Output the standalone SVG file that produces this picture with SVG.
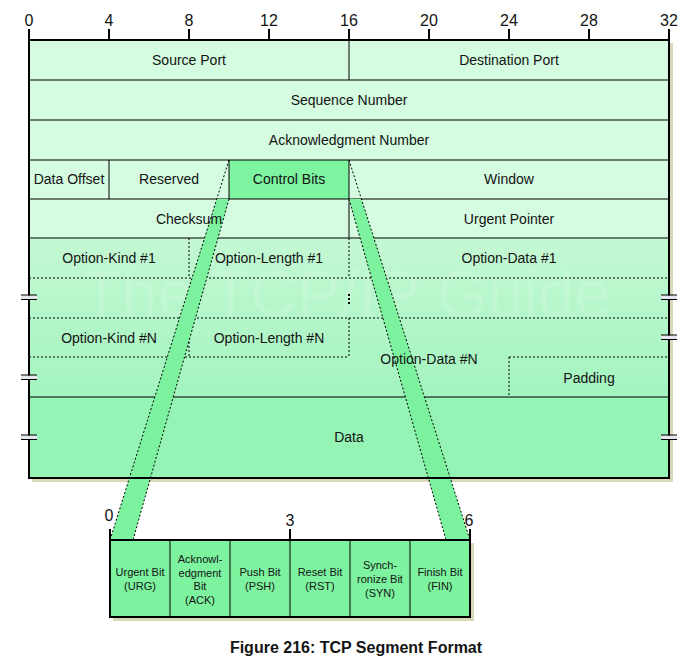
<svg xmlns="http://www.w3.org/2000/svg" width="700" height="668" viewBox="0 0 700 668">
<defs>
<linearGradient id="optGrad" x1="0" y1="238" x2="0" y2="397" gradientUnits="userSpaceOnUse">
<stop offset="0" stop-color="#c4f8d3"/>
<stop offset="1" stop-color="#a3f4bf"/>
</linearGradient>
</defs>
<style>
.t{font-family:"Liberation Sans",Arial,sans-serif;font-size:14px;fill:#141414;text-anchor:middle}
.s{font-size:11px}
.n{font-size:16px}
.cap{font-size:16px;font-weight:bold}
.sol{stroke:#000;stroke-width:1;fill:none}
.dot{stroke:#000;stroke-width:1;stroke-dasharray:2 2;fill:none}
.bd{stroke:#000;stroke-width:2;fill:none}
.tick{stroke:#000;stroke-width:2}
.sh{fill:#d8d8b8}
.band{fill:#7cf29e;stroke:none}
.brk{fill:#e6e6f0}
</style>
<rect width="700" height="668" fill="#ffffff"/>

<!-- shadows -->
<rect class="sh" x="669" y="43" width="4" height="439"/>
<rect class="sh" x="32" y="478" width="641" height="4"/>
<rect class="sh" x="470" y="543" width="4" height="78"/>
<rect class="sh" x="113" y="617" width="361" height="4"/>

<!-- ruler -->
<g id="ruler">
<line class="tick" x1="29" y1="29" x2="29" y2="40"/>
<line class="tick" x1="109" y1="29" x2="109" y2="40"/>
<line class="tick" x1="189" y1="29" x2="189" y2="40"/>
<line class="tick" x1="269" y1="29" x2="269" y2="40"/>
<line class="tick" x1="349" y1="29" x2="349" y2="40"/>
<line class="tick" x1="429" y1="29" x2="429" y2="40"/>
<line class="tick" x1="509" y1="29" x2="509" y2="40"/>
<line class="tick" x1="589" y1="29" x2="589" y2="40"/>
<line class="tick" x1="669" y1="29" x2="669" y2="40"/>
<text class="t n" x="29" y="26">0</text>
<text class="t n" x="109" y="26">4</text>
<text class="t n" x="189" y="26">8</text>
<text class="t n" x="269" y="26">12</text>
<text class="t n" x="349" y="26">16</text>
<text class="t n" x="429" y="26">20</text>
<text class="t n" x="509" y="26">24</text>
<text class="t n" x="589" y="26">28</text>
<text class="t n" x="669" y="26">32</text>
</g>

<!-- main segment fills -->
<g id="segment-fills">
<rect x="29" y="40" width="640" height="198" fill="#d5fbe0"/>
<rect x="29" y="238" width="640" height="159" fill="url(#optGrad)"/>
<rect x="29" y="397" width="640" height="81" fill="#94f3b5"/>
<rect id="control-bits-cell" x="229" y="160" width="120" height="39" fill="#7ef3a0"/>
<text x="346" y="316" font-family="'Liberation Sans',Arial,sans-serif" font-size="65" text-anchor="middle" fill="#ffffff" fill-opacity="0.13">The TCP/IP Guide</text>
</g>

<!-- internal lines -->
<g id="segment-lines">
<line class="sol" x1="29" y1="80" x2="669" y2="80"/>
<line class="sol" x1="29" y1="120" x2="669" y2="120"/>
<line class="sol" x1="29" y1="160" x2="669" y2="160"/>
<line class="sol" x1="29" y1="199" x2="669" y2="199"/>
<line class="sol" x1="29" y1="238" x2="669" y2="238"/>
<line class="sol" x1="29" y1="397" x2="669" y2="397"/>
<line class="sol" x1="349" y1="40" x2="349" y2="80"/>
<line class="sol" x1="349" y1="160" x2="349" y2="238"/>
<line class="sol" x1="109" y1="160" x2="109" y2="199"/>
<line class="sol" x1="229" y1="160" x2="229" y2="199"/>
<line class="dot" x1="29" y1="278" x2="669" y2="278"/>
<line class="dot" x1="29" y1="318" x2="669" y2="318"/>
<line class="dot" x1="189" y1="238" x2="189" y2="278"/>
<line class="dot" x1="349" y1="238" x2="349" y2="278"/>
<line class="dot" x1="189" y1="318" x2="189" y2="357"/>
<line class="dot" x1="349" y1="318" x2="349" y2="357"/>
<line class="dot" x1="29" y1="357" x2="349" y2="357"/>
<line class="dot" x1="509" y1="357" x2="669" y2="357"/>
<line class="dot" x1="509" y1="357" x2="509" y2="397"/>
<line x1="349" y1="294" x2="349" y2="304" stroke="#000" stroke-width="2" stroke-dasharray="2 2"/>
</g>

<!-- connectors: magnification bands -->
<g id="connectors">
<polygon class="band" points="216.7,199 229,199 133,540 110,540"/>
<polygon class="band" points="349,199 361.4,199 470,540 446,540"/>
<line class="dot" x1="229" y1="160" x2="110" y2="540"/>
<line class="dot" x1="229" y1="199" x2="133" y2="540"/>
<line class="dot" x1="349" y1="160" x2="470" y2="540"/>
<line class="dot" x1="349" y1="199" x2="446" y2="540"/>
</g>

<!-- main border -->
<rect class="bd" x="29" y="40" width="640" height="438"/>

<!-- field labels -->
<g id="source-port"><text class="t" x="189" y="65">Source Port</text></g>
<g id="destination-port"><text class="t" x="509" y="65">Destination Port</text></g>
<g id="sequence-number"><text class="t" x="349" y="105">Sequence Number</text></g>
<g id="ack-number"><text class="t" x="349" y="145">Acknowledgment Number</text></g>
<g id="data-offset"><text class="t" x="69" y="184">Data Offset</text></g>
<g id="reserved"><text class="t" x="169" y="184">Reserved</text></g>
<g id="control-bits"><text class="t" x="289" y="184">Control Bits</text></g>
<g id="window"><text class="t" x="509" y="184">Window</text></g>
<g id="checksum"><text class="t" x="189" y="224">Checksum</text></g>
<g id="urgent-pointer"><text class="t" x="509" y="224">Urgent Pointer</text></g>
<g id="option-kind-1"><text class="t" x="109" y="263">Option-Kind #1</text></g>
<g id="option-length-1"><text class="t" x="269" y="263">Option-Length #1</text></g>
<g id="option-data-1"><text class="t" x="509" y="263">Option-Data #1</text></g>
<g id="option-kind-n"><text class="t" x="109" y="343">Option-Kind #N</text></g>
<g id="option-length-n"><text class="t" x="269" y="343">Option-Length #N</text></g>
<g id="option-data-n"><text class="t" x="429" y="364">Option-Data #N</text></g>
<g id="padding"><text class="t" x="589" y="383">Padding</text></g>
<g id="data"><text class="t" x="349" y="442">Data</text></g>

<!-- break marks -->
<g id="breaks">
<rect class="brk" x="21" y="295.5" width="16" height="3.5"/>
<line class="sol" x1="21" y1="295" x2="37" y2="295" stroke-width="1.5"/>
<line class="sol" x1="21" y1="299.5" x2="37" y2="299.5" stroke-width="1.5"/>
<rect class="brk" x="21" y="375.5" width="16" height="3.5"/>
<line class="sol" x1="21" y1="375" x2="37" y2="375" stroke-width="1.5"/>
<line class="sol" x1="21" y1="379.5" x2="37" y2="379.5" stroke-width="1.5"/>
<rect class="brk" x="21" y="435.5" width="16" height="3.5"/>
<line class="sol" x1="21" y1="435" x2="37" y2="435" stroke-width="1.5"/>
<line class="sol" x1="21" y1="439.5" x2="37" y2="439.5" stroke-width="1.5"/>
<rect class="brk" x="661" y="295.5" width="16" height="3.5"/>
<line class="sol" x1="661" y1="295" x2="677" y2="295" stroke-width="1.5"/>
<line class="sol" x1="661" y1="299.5" x2="677" y2="299.5" stroke-width="1.5"/>
<rect class="brk" x="661" y="335.5" width="16" height="3.5"/>
<line class="sol" x1="661" y1="335" x2="677" y2="335" stroke-width="1.5"/>
<line class="sol" x1="661" y1="339.5" x2="677" y2="339.5" stroke-width="1.5"/>
<rect class="brk" x="661" y="435.5" width="16" height="3.5"/>
<line class="sol" x1="661" y1="435" x2="677" y2="435" stroke-width="1.5"/>
<line class="sol" x1="661" y1="439.5" x2="677" y2="439.5" stroke-width="1.5"/>
</g>

<!-- control bits detail -->
<g id="control-bits-detail">
<rect x="110" y="540" width="360" height="77" fill="#7df29f"/>
<line class="sol" x1="170" y1="540" x2="170" y2="617"/>
<line class="sol" x1="230" y1="540" x2="230" y2="617"/>
<line class="sol" x1="290" y1="540" x2="290" y2="617"/>
<line class="sol" x1="350" y1="540" x2="350" y2="617"/>
<line class="sol" x1="410" y1="540" x2="410" y2="617"/>
<rect class="bd" x="110" y="540" width="360" height="77"/>
<line class="tick" x1="110" y1="529" x2="110" y2="540"/>
<line class="tick" x1="290" y1="529" x2="290" y2="540"/>
<line class="tick" x1="470" y1="529" x2="470" y2="540"/>
<text class="t n" x="109" y="521">0</text>
<text class="t n" x="290" y="526">3</text>
<text class="t n" x="469" y="526">6</text>
</g>
<g id="urg"><text class="t s" x="140" y="576">Urgent Bit</text><text class="t s" x="140" y="590">(URG)</text></g>
<g id="ack"><text class="t s" x="200" y="563">Acknowl-</text><text class="t s" x="200" y="577">edgment</text><text class="t s" x="200" y="590">Bit</text><text class="t s" x="200" y="604">(ACK)</text></g>
<g id="psh"><text class="t s" x="260" y="576">Push Bit</text><text class="t s" x="260" y="590">(PSH)</text></g>
<g id="rst"><text class="t s" x="320" y="576">Reset Bit</text><text class="t s" x="320" y="590">(RST)</text></g>
<g id="syn"><text class="t s" x="380" y="569">Synch-</text><text class="t s" x="380" y="583">ronize Bit</text><text class="t s" x="380" y="597">(SYN)</text></g>
<g id="fin"><text class="t s" x="440" y="576">Finish Bit</text><text class="t s" x="440" y="590">(FIN)</text></g>

<g id="caption"><text class="t cap" x="356" y="653">Figure 216: TCP Segment Format</text></g>
</svg>
